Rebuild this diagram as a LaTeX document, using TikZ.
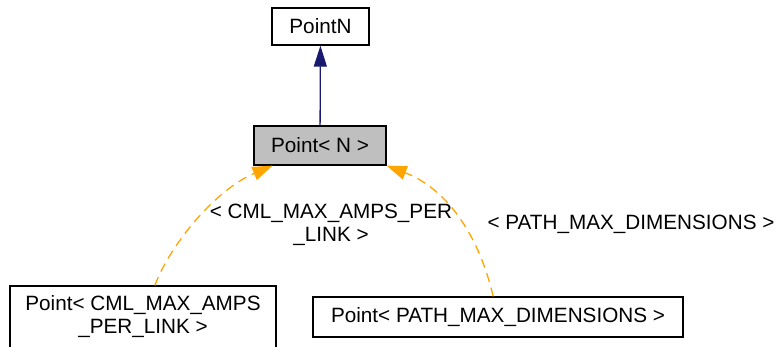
\documentclass[tikz,border=0pt]{standalone}
\usepackage{fontspec}
\setmainfont{Liberation Sans}
\usetikzlibrary{arrows.meta}
\definecolor{edgeblue}{HTML}{191970}
\definecolor{edgeorange}{HTML}{FFA500}
\definecolor{boxgray}{HTML}{BFBFBF}
\tikzset{
  cls/.style={draw, rectangle, inner sep=0pt, line width=1.3pt, align=center},
  inherit/.style={draw=edgeblue, line width=1.3pt, -{Triangle[length=21pt,width=13pt]}},
  templ/.style={draw=edgeorange, line width=1.3pt, dash pattern=on 9pt off 6pt,
    -{Triangle[length=20pt,width=14pt,fill=edgeorange]}},
  lbl/.style={align=center, inner sep=0pt}
}
\begin{document}
\begin{tikzpicture}[x=1pt, y=-1pt, font=\fontsize{20.7}{23}\selectfont]
\useasboundingbox (0,0) rectangle (780,346);
\node (a) [cls, minimum width=97pt, minimum height=37pt] at (320.5,26.5) {PointN};
\node (b) [cls, fill=boxgray, minimum width=132pt, minimum height=39pt] at (320,145.5) {Point< N >};
\node (c) [cls, minimum width=266pt, minimum height=62pt] at (143,317) {Point< CML\_MAX\_AMPS\\\_PER\_LINK >};
\node (d) [cls, minimum width=370pt, minimum height=40pt] at (498,317) {Point< PATH\_MAX\_DIMENSIONS >};
\draw[inherit] (b) -- (a);
\draw[templ] (c) .. controls (170,245) and (215,190) .. (b)
  node[lbl] at (331,225) {< CML\_MAX\_AMPS\_PER\\\_LINK >};
\draw[templ] (d) .. controls (480,240) and (450,190) .. (b.south east)
  node[lbl] at (631,224) {< PATH\_MAX\_DIMENSIONS >};
\end{tikzpicture}
\end{document}
